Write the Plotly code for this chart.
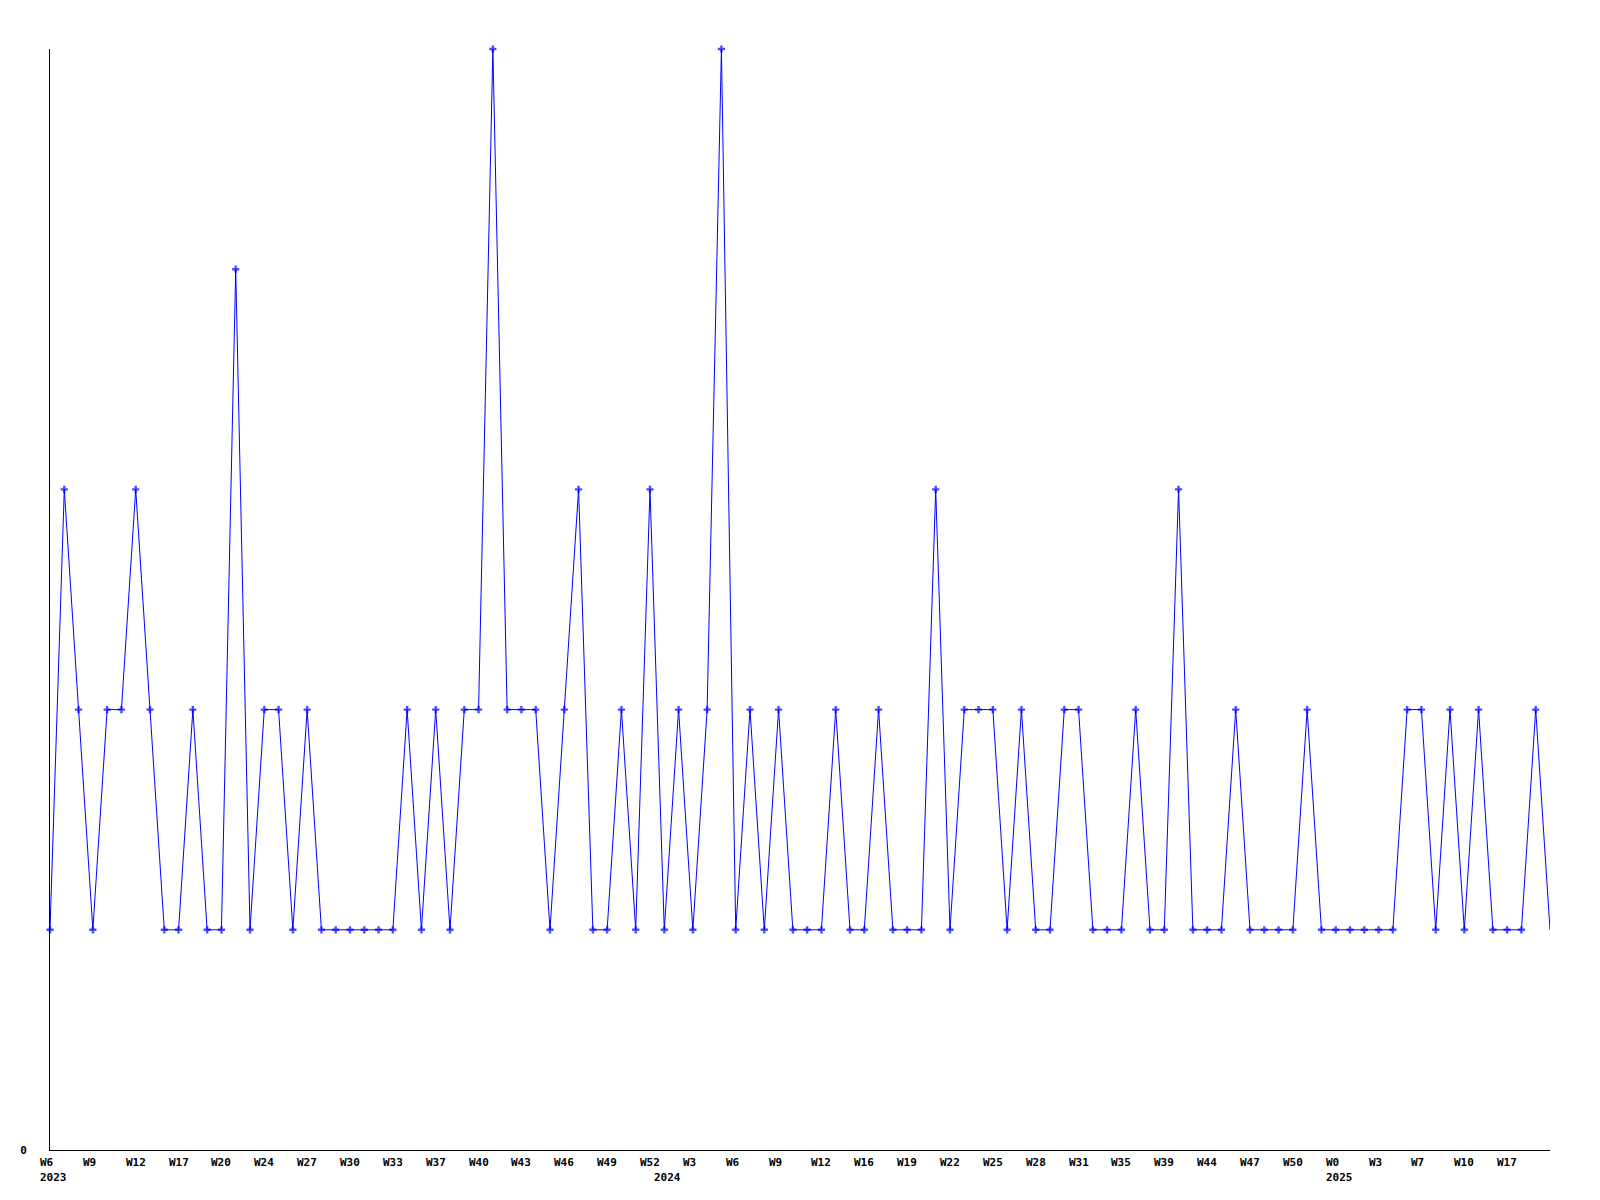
import plotly.graph_objects as go

# weekly values (index-based, evenly spaced)
values = [1, 3, 2, 1, 2, 2, 3, 2, 1, 1,
          2, 1, 1, 4, 1, 2, 2, 1, 2, 1,
          1, 1, 1, 1, 1, 2, 1, 2, 1, 2,
          2, 5, 2, 2, 2, 1, 2, 3, 1, 1,
          2, 1, 3, 1, 2, 1, 2, 5, 1, 2,
          1, 2, 1, 1, 1, 2, 1, 1, 2, 1,
          1, 1, 3, 1, 2, 2, 2, 1, 2, 1,
          1, 2, 2, 1, 1, 1, 2, 1, 1, 3,
          1, 1, 1, 2, 1, 1, 1, 1, 2, 1,
          1, 1, 1, 1, 1, 2, 2, 1, 2, 1,
          2, 1, 1, 1, 2, 1]

tick_labels = ["W6", "W9", "W12", "W17", "W20", "W24", "W27", "W30", "W33", "W37",
               "W40", "W43", "W46", "W49", "W52", "W3", "W6", "W9", "W12", "W16",
               "W19", "W22", "W25", "W28", "W31", "W35", "W39", "W44", "W47", "W50",
               "W0", "W3", "W7", "W10", "W17"]
tick_step = 3

year_labels = ["2023", "2024", "2025"]
year_positions = [0, 43, 90]

n = len(values)
x = list(range(n))
tick_vals = [i * tick_step for i in range(len(tick_labels))]

font = dict(family="DejaVu Sans Mono", size=11, color="black", weight="bold")

sizes = [6] * (n - 1) + [0]

fig = go.Figure()
fig.add_trace(go.Scatter(
    x=x, y=values, mode="lines+markers",
    line=dict(color="#0000ff", width=1),
    marker=dict(symbol="cross", size=sizes, color="#0000ff", line=dict(width=0)),
    cliponaxis=False, showlegend=False, hoverinfo="skip",
))

# week labels, left-aligned just before each tick position
for lab, pos in zip(tick_labels, tick_vals):
    fig.add_annotation(x=pos, y=0, xref="x", yref="paper", text=lab,
                       showarrow=False, xanchor="left", yanchor="top",
                       xshift=-12, yshift=-4, font=font)

for lab, pos in zip(year_labels, year_positions):
    fig.add_annotation(x=pos, y=0, xref="x", yref="paper", text=lab,
                       showarrow=False, xanchor="left", yanchor="top",
                       xshift=-12, yshift=-19, font=font)

fig.update_layout(
    width=1600, height=1200,
    margin=dict(l=42, r=58, t=41, b=58, autoexpand=False),
    paper_bgcolor="white", plot_bgcolor="white",
    font=font,
)
fig.update_xaxes(range=[0, n - 1], tickvals=tick_vals, showticklabels=False,
                 showgrid=False, zeroline=False, showline=True, linecolor="black",
                 linewidth=1, ticks="")
fig.update_yaxes(range=[0, 5], tickvals=[0], ticktext=["0"], showgrid=False,
                 zeroline=False, showline=True, linecolor="black", linewidth=1,
                 ticks="", ticklabelstandoff=20, tickfont=font)

fig.write_html("out.html")
